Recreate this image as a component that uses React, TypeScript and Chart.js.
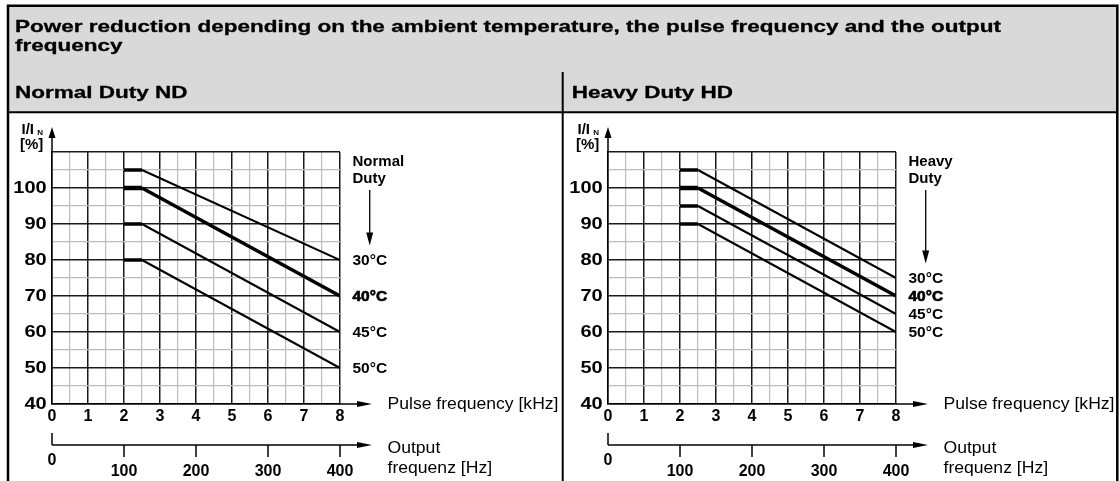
import React, { useEffect, useRef } from 'react';
import { Chart, registerables } from 'chart.js';

Chart.register(...registerables);

// ---------------- data ----------------
const pulseFrequencyKHz = [2, 2.5, 8];
const outputFrequencyTicksHz = [0, 100, 200, 300, 400];
const temperatureLabels = ['30°C', '40°C', '45°C', '50°C'];

const normalDuty30 = [105, 105, 80];
const normalDuty40 = [100, 100, 70];
const normalDuty45 = [90, 90, 60];
const normalDuty50 = [80, 80, 50];

const heavyDuty30 = [105, 105, 75];
const heavyDuty40 = [100, 100, 70];
const heavyDuty45 = [95, 95, 65];
const heavyDuty50 = [90, 90, 60];

const titleLines = [
  'Power reduction depending on the ambient temperature, the pulse frequency and the output',
  'frequency',
];
const panelTitles = ['Normal Duty ND', 'Heavy Duty HD'];
const normalLegend = ['Normal', 'Duty'];
const heavyLegend = ['Heavy', 'Duty'];
const pulseAxisTitle = 'Pulse frequency [kHz]';
const outputAxisTitle = ['Output', 'frequenz [Hz]'];
const yAxisTitle = ['I/I', 'N', '[%]'];

// ---------------- style ----------------
const FAM = "'Liberation Sans', Arial, Helvetica, sans-serif";
const INK = '#000';
const GRID_MAJOR = '#1a1a1a';
const GRID_MINOR = '#bcbcbc';
const HEADER_BG = '#d9d9d9';

type Align = 'left' | 'center' | 'right';
interface TextOpts {
  sx?: number;
  w?: number;
  align?: Align;
  base?: CanvasTextBaseline;
  heavy?: number;
}

function drawText(ctx: CanvasRenderingContext2D, s: string, x: number, y: number, font: string, o: TextOpts = {}): number {
  ctx.save();
  ctx.font = font;
  ctx.textAlign = 'left';
  ctx.textBaseline = o.base ?? 'alphabetic';
  const m = ctx.measureText(s).width;
  const sx = o.w ? o.w / m : o.sx ?? 1;
  const W = m * sx;
  let x0 = x;
  if (o.align === 'center') x0 = x - W / 2;
  else if (o.align === 'right') x0 = x - W;
  ctx.translate(x0, y);
  ctx.scale(sx, 1);
  ctx.fillStyle = INK;
  ctx.fillText(s, 0, 0);
  if (o.heavy) {
    ctx.strokeStyle = INK;
    ctx.lineWidth = o.heavy;
    ctx.lineJoin = 'round';
    ctx.strokeText(s, 0, 0);
  }
  ctx.restore();
  return sx;
}

function seg(ctx: CanvasRenderingContext2D, x1: number, y1: number, x2: number, y2: number) {
  ctx.beginPath();
  ctx.moveTo(x1, y1);
  ctx.lineTo(x2, y2);
  ctx.stroke();
}

function arrow(ctx: CanvasRenderingContext2D, tx: number, ty: number, dir: 'up' | 'down' | 'right', len: number, half: number) {
  ctx.beginPath();
  ctx.moveTo(tx, ty);
  if (dir === 'up') {
    ctx.lineTo(tx - half, ty + len);
    ctx.lineTo(tx + half, ty + len);
  } else if (dir === 'down') {
    ctx.lineTo(tx - half, ty - len);
    ctx.lineTo(tx + half, ty - len);
  } else {
    ctx.lineTo(tx - len, ty - half);
    ctx.lineTo(tx - len, ty + half);
  }
  ctx.closePath();
  ctx.fill();
}

const isWhole = (v: number) => Math.abs(v - Math.round(v)) < 1e-6;

function drawHeader(ctx: CanvasRenderingContext2D) {
  ctx.save();
  ctx.fillStyle = HEADER_BG;
  ctx.fillRect(8, 5, 1110, 107);
  const hf = `bold 17px ${FAM}`;
  const sx = drawText(ctx, titleLines[0], 15, 32.3, hf, { w: 986, heavy: 0.3 });
  drawText(ctx, titleLines[1], 15, 50.5, hf, { sx, heavy: 0.3 });
  drawText(ctx, panelTitles[0], 15, 98.3, hf, { sx, heavy: 0.3 });
  drawText(ctx, panelTitles[1], 571.7, 98.3, hf, { sx, heavy: 0.3 });
  ctx.strokeStyle = INK;
  ctx.lineWidth = 2.5;
  ctx.beginPath();
  ctx.moveTo(6.75, 5.75);
  ctx.lineTo(1118.6, 5.75);
  ctx.moveTo(8, 4.5);
  ctx.lineTo(8, 481);
  ctx.moveTo(1117.3, 4.5);
  ctx.lineTo(1117.3, 481);
  ctx.stroke();
  ctx.lineWidth = 2;
  ctx.beginPath();
  ctx.moveTo(8, 112.3);
  ctx.lineTo(1117, 112.3);
  ctx.moveTo(562.7, 72);
  ctx.lineTo(562.7, 481);
  ctx.stroke();
  ctx.restore();
}

interface PanelSpec {
  key: string;
  plotLeft: number;
  plotRight: number;
  series: number[][];
  legend: string[];
  header: boolean;
}

function decorPlugin(spec: PanelSpec) {
  return {
    id: 'decor-' + spec.key,
    beforeDraw(chart: any) {
      if (spec.header) drawHeader(chart.ctx);
    },
    afterDraw(chart: any) {
      const ctx: CanvasRenderingContext2D = chart.ctx;
      const { left, right, top, bottom } = chart.chartArea;
      const ys = chart.scales.y;
      const os = chart.scales.out;
      ctx.save();
      ctx.fillStyle = INK;
      ctx.strokeStyle = INK;
      ctx.lineWidth = 1.5;
      ctx.lineCap = 'butt';

      // y tick labels (from the scale's own ticks)
      ys.ticks.forEach((t: any) => {
        const v = t.value;
        if (!t.label) return;
        drawText(ctx, String(t.label), left - 5.3, ys.getPixelForValue(v) + 0.5, `bold 16px ${FAM}`, {
          sx: 1.25,
          align: 'right',
          base: 'middle',
        });
      });

      // y axis extension with arrow
      seg(ctx, left, top, left, top - 14);
      arrow(ctx, left, top - 25, 'up', 11, 3.5);
      drawText(ctx, yAxisTitle[0], left - 30.5, top - 18, `bold 15px ${FAM}`);
      drawText(ctx, yAxisTitle[1], left - 14.8, top - 16.7, `bold 8px ${FAM}`);
      drawText(ctx, yAxisTitle[2], left - 32, top - 3, `bold 15px ${FAM}`);

      // pulse frequency axis extension
      seg(ctx, right, bottom, right + 18, bottom);
      arrow(ctx, right + 32, bottom, 'right', 15, 3);
      const regSx = drawText(ctx, pulseAxisTitle, right + 47.5, bottom + 0.5, `16px ${FAM}`, { w: 171, base: 'middle' });

      // output frequency axis
      const ySec = bottom + 41;
      seg(ctx, left, ySec, right + 18, ySec);
      arrow(ctx, right + 32, ySec, 'right', 15, 3);
      outputFrequencyTicksHz.forEach((hz) => {
        const px = os.getPixelForValue(hz);
        if (hz === 0) {
          seg(ctx, px, ySec - 12, px, ySec);
          drawText(ctx, String(hz), px, ySec + 15.5, `bold 16px ${FAM}`, { align: 'center', base: 'middle' });
        } else {
          seg(ctx, px, ySec, px, ySec + 12);
          drawText(ctx, String(hz), px, ySec + 27, `bold 16px ${FAM}`, { align: 'center', base: 'middle' });
        }
      });
      drawText(ctx, outputAxisTitle[0], right + 47.5, bottom + 48.7, `16px ${FAM}`, { sx: regSx });
      drawText(ctx, outputAxisTitle[1], right + 47.5, bottom + 68.7, `16px ${FAM}`, { sx: regSx });

      // duty legend
      drawText(ctx, spec.legend[0], right + 12.5, top + 14, `bold 15px ${FAM}`);
      drawText(ctx, spec.legend[1], right + 12.5, top + 31, `bold 15px ${FAM}`);

      // temperature labels at line ends
      const ends: number[] = [];
      chart.data.datasets.forEach((ds: any, i: number) => {
        const pts = ds.data as { x: number; y: number }[];
        const py = ys.getPixelForValue(pts[pts.length - 1].y);
        ends.push(py);
        drawText(ctx, temperatureLabels[i], right + 12.5, py + 0.5, `bold 15.5px ${FAM}`, {
          base: 'middle',
          heavy: i === 1 ? 0.7 : 0,
        });
      });
      const ax = right + 29.7;
      const tipY = ends[0] - 14.5;
      ctx.lineWidth = 1.3;
      seg(ctx, ax, top + 38, ax, tipY - 10);
      arrow(ctx, ax, tipY, 'down', 13, 3.5);

      ctx.restore();
    },
  };
}

function makeChart(canvas: HTMLCanvasElement, spec: PanelSpec) {
  const major = (c: any) => c.tick && isWhole(c.tick.value / (c.scale.axis === 'y' ? 10 : 1));
  const gridColor = (c: any) => (major(c) ? GRID_MAJOR : GRID_MINOR);
  const gridWidth = (c: any) => (major(c) ? 1.5 : 1.2);
  return new Chart(canvas, {
    type: 'line',
    data: {
      datasets: spec.series.map((vals, i) => ({
        label: temperatureLabels[i],
        data: pulseFrequencyKHz.map((x, j) => ({ x, y: vals[j] })),
        borderColor: INK,
        borderWidth: i === 1 ? 3.5 : 2,
        pointRadius: 0,
        fill: false,
        tension: 0,
        borderCapStyle: 'butt',
        borderJoinStyle: 'miter',
        segment: {
          borderWidth: (c: any) =>
            c.p0.parsed.y === c.p1.parsed.y ? (i === 1 ? 4.5 : 3.5) : i === 1 ? 3.5 : 2,
        },
      })),
    },
    options: {
      responsive: false,
      animation: false,
      events: [],
      layout: {
        padding: { left: spec.plotLeft, right: 1120 - spec.plotRight, top: 152, bottom: 49 },
      },
      plugins: {
        legend: { display: false },
        tooltip: { enabled: false },
        title: { display: false },
      },
      scales: {
        x: {
          type: 'linear',
          position: 'bottom',
          min: 0,
          max: 8,
          afterFit: (s: any) => {
            s.height = 28;
          },
          ticks: {
            stepSize: 0.5,
            autoSkip: false,
            maxRotation: 0,
            minRotation: 0,
            padding: 3,
            color: INK,
            font: { family: FAM, size: 16, weight: 'bold' },
            callback: (v: any) => (isWhole(+v) ? String(Math.round(+v)) : ''),
          },
          grid: { drawTicks: false, color: gridColor, lineWidth: gridWidth },
          border: { display: true, color: INK, width: 1.5 },
        },
        y: {
          type: 'linear',
          position: 'left',
          min: 40,
          max: 110,
          afterFit: (s: any) => {
            s.width = 0;
          },
          ticks: {
            display: false,
            stepSize: 5,
            autoSkip: false,
            callback: (v: any) => (isWhole(+v / 10) && +v < 110 ? String(Math.round(+v)) : ''),
          },
          grid: { drawTicks: false, color: gridColor, lineWidth: gridWidth },
          border: { display: true, color: INK, width: 1.5 },
        },
        out: {
          type: 'linear',
          axis: 'x',
          position: 'bottom',
          min: 0,
          max: 400,
          display: false,
        },
      },
    } as any,
    plugins: [decorPlugin(spec)],
  } as any);
}

export default function App() {
  const leftRef = useRef<HTMLCanvasElement>(null);
  const rightRef = useRef<HTMLCanvasElement>(null);

  useEffect(() => {
    const c1 = makeChart(leftRef.current!, {
      key: 'nd',
      plotLeft: 52,
      plotRight: 340,
      series: [normalDuty30, normalDuty40, normalDuty45, normalDuty50],
      legend: normalLegend,
      header: true,
    });
    const c2 = makeChart(rightRef.current!, {
      key: 'hd',
      plotLeft: 608,
      plotRight: 896,
      series: [heavyDuty30, heavyDuty40, heavyDuty45, heavyDuty50],
      legend: heavyLegend,
      header: false,
    });
    return () => {
      c1.destroy();
      c2.destroy();
    };
  }, []);

  return (
    <div
      style={{
        position: 'absolute',
        left: 0,
        top: 0,
        width: 1120,
        height: 481,
        background: '#fff',
        overflow: 'hidden',
      }}
    >
      <canvas ref={leftRef} width={1120} height={481} style={{ position: 'absolute', left: 0, top: 0 }} />
      <canvas ref={rightRef} width={1120} height={481} style={{ position: 'absolute', left: 0, top: 0 }} />
    </div>
  );
}
